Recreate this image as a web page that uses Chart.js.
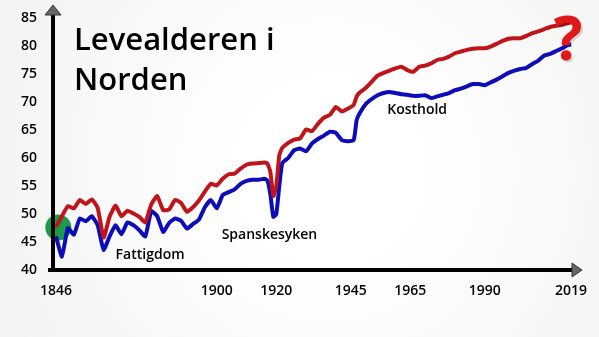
<!DOCTYPE html>
<html>
<head>
<meta charset="utf-8">
<script src="https://cdn.jsdelivr.net/npm/chart.js@4"></script>
<style>
  html, body { margin: 0; padding: 0; background: #fafafa; }
  #wrap { width: 599px; height: 337px; position: relative; }
</style>
</head>
<body>
<div id="wrap"><canvas id="lifeChart"></canvas></div>
<script>
// years (every 2 years, denser around the flu dip)
const years = [1846, 1848, 1850, 1852, 1854, 1856, 1858, 1860, 1862, 1864, 1866, 1868, 1870, 1872, 1874, 1876, 1878, 1880,
    1882, 1884, 1886, 1888, 1890, 1892, 1894, 1896, 1898, 1900, 1902, 1904, 1906, 1908, 1910, 1912, 1914, 1916, 1917, 1918,
    1919, 1920, 1921, 1922, 1924, 1926, 1928, 1930, 1932, 1934, 1936, 1938, 1940, 1942, 1944, 1946, 1947, 1948, 1950, 1952,
    1954, 1956, 1958, 1960, 1962, 1964, 1966, 1968, 1970, 1972, 1974, 1976, 1978, 1980, 1982, 1984, 1986, 1988, 1990, 1992,
    1994, 1996, 1998, 2000, 2002, 2004, 2006, 2008, 2010, 2012, 2014, 2016, 2018, 2019];

// red line (upper)
const redValues = [47.7, 49.6, 51.4, 51.0, 52.5, 51.8, 52.6, 51.1, 45.8, 49.5, 51.5, 49.6, 50.6, 50.1, 49.5, 48.5, 51.7, 53.2,
    50.7, 50.8, 52.5, 52.0, 50.4, 51.2, 52.4, 54.0, 55.4, 55.1, 56.3, 57.1, 57.2, 58.1, 58.8, 59.0, 59.1, 59.2, 59.0, 57.5,
    53.2, 55.0, 60.5, 61.8, 62.7, 63.3, 63.5, 65.1, 64.8, 66.1, 67.2, 67.7, 69.1, 68.3, 68.8, 69.5, 71.0, 71.7, 72.5, 73.6,
    74.7, 75.2, 75.6, 76.0, 76.3, 75.7, 75.4, 76.3, 76.5, 76.9, 77.5, 77.7, 78.1, 78.7, 79.0, 79.3, 79.5, 79.6, 79.6, 79.9,
    80.4, 80.9, 81.3, 81.4, 81.4, 81.8, 82.3, 82.6, 83.0, 83.4, 83.6, 83.8, 84.1, 84.2];

// blue line (lower)
const blueValues = [46.0, 42.4, 47.5, 46.3, 49.2, 48.7, 49.6, 48.0, 43.6, 46.0, 48.0, 46.4, 48.5, 48.0, 47.1, 46.0, 50.5, 49.6,
    46.8, 48.4, 49.2, 48.8, 47.4, 48.2, 49.0, 51.2, 52.5, 51.0, 53.4, 53.9, 54.4, 55.4, 55.9, 56.1, 56.1, 56.3, 56.0, 53.5,
    49.5, 50.0, 55.0, 59.1, 60.0, 61.4, 61.7, 61.2, 62.6, 63.4, 64.0, 64.7, 64.5, 63.2, 63.0, 63.2, 66.8, 68.0, 69.6, 70.5,
    71.2, 71.6, 71.8, 71.6, 71.4, 71.3, 71.1, 71.1, 71.2, 70.7, 71.0, 71.3, 71.6, 72.1, 72.4, 72.8, 73.2, 73.2, 73.0, 73.5,
    74.0, 74.6, 75.2, 75.6, 75.9, 76.1, 76.8, 77.4, 78.3, 78.6, 79.1, 79.6, 80.2, 80.3];

const xTickYears = [1846, 1900, 1920, 1945, 1965, 1990, 2019];
const yTickValues = [40, 45, 50, 55, 60, 65, 70, 75, 80, 85];

const titleLines = ['Levealderen i', 'Norden'];
const notes = ['Fattigdom', 'Spanskesyken', 'Kosthold'];

document.addEventListener("DOMContentLoaded", function () {

    const FONT = '"Open Sans", "DejaVu Sans", sans-serif';

    // light slide background
    const backgroundPlugin = {
        id: 'slideBackground',
        beforeDraw(chart) {
            const c = chart.ctx;
            const g = c.createRadialGradient(330, 170, 80, 330, 170, 420);
            g.addColorStop(0, '#ffffff');
            g.addColorStop(1, '#f1f1f1');
            c.save();
            c.fillStyle = g;
            c.fillRect(0, 0, chart.width, chart.height);
            c.restore();
        }
    };

    // green dot at the start, drawn below the lines
    const startDotPlugin = {
        id: 'startDot',
        beforeDatasetsDraw(chart) {
            const c = chart.ctx;
            const x = chart.scales.x.getPixelForValue(1846.8);
            const y = chart.scales.y.getPixelForValue(47.6);
            c.save();
            c.beginPath();
            c.arc(x, y, 13, 0, Math.PI * 2);
            c.fillStyle = '#1b9a48';
            c.fill();
            c.restore();
        }
    };

    // axes with arrowheads, title, notes and the question mark
    const decorPlugin = {
        id: 'decor',
        afterDatasetsDraw(chart) {
            const c = chart.ctx;
            const area = chart.chartArea;
            const xs = chart.scales.x, ys = chart.scales.y;
            c.save();

            // axis lines
            c.strokeStyle = '#000';
            c.lineWidth = 4;
            c.beginPath();
            c.moveTo(area.left, area.bottom);
            c.lineTo(area.left, 13);
            c.moveTo(area.left - 5, area.bottom);
            c.lineTo(area.right - 6, area.bottom);
            c.stroke();

            // arrowheads
            c.fillStyle = '#666';
            c.strokeStyle = '#333';
            c.lineWidth = 1;
            c.beginPath();
            c.moveTo(area.left, 5);
            c.lineTo(area.left + 8, 15);
            c.lineTo(area.left - 8, 15);
            c.closePath();
            c.fill();
            c.stroke();
            c.beginPath();
            c.moveTo(area.right + 2, area.bottom);
            c.lineTo(area.right - 8, area.bottom - 7);
            c.lineTo(area.right - 8, area.bottom + 7);
            c.closePath();
            c.fill();
            c.stroke();

            // title
            c.fillStyle = '#000';
            c.font = '600 31px ' + FONT;
            c.textAlign = 'left';
            c.textBaseline = 'alphabetic';
            c.fillText(titleLines[0], 74, 50);
            c.fillText(titleLines[1], 74, 90);

            // notes
            c.font = '600 14px ' + FONT;
            c.textAlign = 'center';
            c.textBaseline = 'middle';
            c.fillText(notes[0], xs.getPixelForValue(1877.6), ys.getPixelForValue(42.7));
            c.fillText(notes[1], xs.getPixelForValue(1917.7), ys.getPixelForValue(46.3));
            c.fillText(notes[2], xs.getPixelForValue(1967.3), ys.getPixelForValue(68.6));

            // red question mark
            c.font = 'bold 60px ' + FONT;
            c.textAlign = 'center';
            c.textBaseline = 'alphabetic';
            c.fillStyle = 'rgba(0,0,0,0.15)';
            c.fillText('?', xs.getPixelForValue(2018) + 2, 62);
            c.fillStyle = '#e01818';
            c.fillText('?', xs.getPixelForValue(2018), 60);

            c.restore();
        }
    };

    const ctx = document.getElementById('lifeChart').getContext('2d');
    const lifeChart = new Chart(ctx, {
        type: 'line',
        data: {
            datasets: [{
                label: 'Rød',
                data: years.map((yr, i) => ({ x: yr, y: redValues[i] })),
                borderColor: '#bf1419',
                borderWidth: 4,
                pointRadius: 0,
                tension: 0.15,
                fill: false
            }, {
                label: 'Blå',
                data: years.map((yr, i) => ({ x: yr, y: blueValues[i] })),
                borderColor: '#0c0cb8',
                borderWidth: 4,
                pointRadius: 0,
                tension: 0.15,
                fill: false
            }]
        },
        options: {
            responsive: true,
            maintainAspectRatio: false,
            animation: false,
            layout: { padding: { top: 18, right: 19, left: 0, bottom: 0 } },
            plugins: {
                legend: { display: false },
                tooltip: { enabled: false }
            },
            scales: {
                x: {
                    type: 'linear',
                    min: 1845,
                    max: 2022,
                    grid: { display: false },
                    border: { display: false },
                    afterBuildTicks: scale => {
                        scale.ticks = xTickYears.map(v => ({ value: v }));
                    },
                    afterFit: scale => { scale.height = 67; },
                    ticks: {
                        padding: 5,
                        maxRotation: 0,
                        autoSkip: false,
                        color: '#000',
                        font: { family: FONT, size: 14, weight: '600' },
                        callback: v => String(v)
                    }
                },
                y: {
                    min: 40,
                    max: 85,
                    grid: { display: false },
                    border: { display: false },
                    afterBuildTicks: scale => {
                        scale.ticks = yTickValues.map(v => ({ value: v }));
                    },
                    afterFit: scale => { scale.width = 53; },
                    ticks: {
                        padding: 8,
                        color: '#000',
                        font: { family: FONT, size: 14, weight: '600' }
                    }
                }
            }
        },
        plugins: [backgroundPlugin, startDotPlugin, decorPlugin]
    });
});
</script>
</body>
</html>
